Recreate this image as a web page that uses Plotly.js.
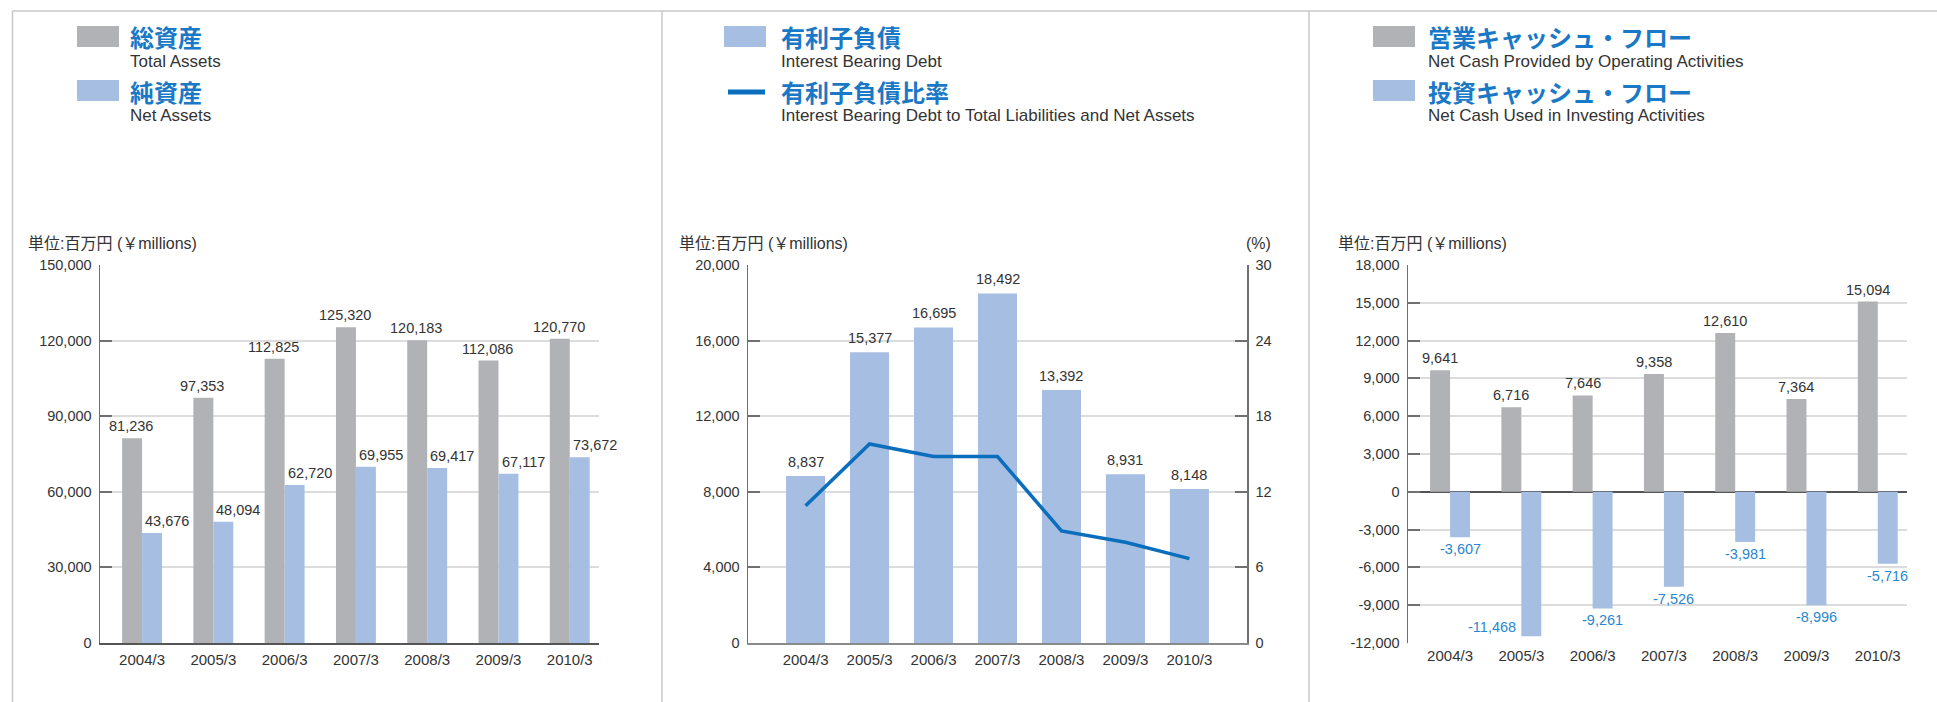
<!DOCTYPE html>
<html>
<head>
<meta charset="utf-8">
<script src="https://cdn.plot.ly/plotly-3.0.1.min.js"></script>
<style>
html,body{margin:0;padding:0;background:#fff;}
#chart{width:1937px;height:702px;}
</style>
</head>
<body>
<div id="chart"></div>
<script>
// ---------- data ----------
const years = ['2004/3','2005/3','2006/3','2007/3','2008/3','2009/3','2010/3'];
const totalAssets = [81236, 97353, 112825, 125320, 120183, 112086, 120770];
const netAssets   = [43676, 48094, 62720, 69955, 69417, 67117, 73672];
const debt        = [8837, 15377, 16695, 18492, 13392, 8931, 8148];
const debtRatio   = [10.9, 15.8, 14.8, 14.8, 8.9, 8.0, 6.7];
const operatingCF = [9641, 6716, 7646, 9358, 12610, 7364, 15094];
const investingCF = [-3607, -11468, -9261, -7526, -3981, -8996, -5716];

const ticks1 = [0, 30000, 60000, 90000, 120000, 150000];
const ticks2 = [0, 4000, 8000, 12000, 16000, 20000];
const ticks2r = [0, 6, 12, 18, 24, 30];
const ticks3 = [-12000, -9000, -6000, -3000, 0, 3000, 6000, 9000, 12000, 15000, 18000];

const legend1 = [['総資産','Total Assets'],['純資産','Net Assets']];
const legend2 = [['有利子負債','Interest Bearing Debt'],['有利子負債比率','Interest Bearing Debt to Total Liabilities and Net Assets']];
const legend3 = [['営業キャッシュ・フロー','Net Cash Provided by Operating Activities'],['投資キャッシュ・フロー','Net Cash Used in Investing Activities']];
const unitLabel = '単位:百万円 (￥millions)';
const pctLabel = '(%)';

// ---------- style ----------
const W = 1937, H = 702;
const X = x => x / W;
const Y = y => 1 - y / H;
const GRAY = '#b1b2b5', BLUE = '#a6bee2', LINE = '#0a6ebd', JPBLUE = '#1a79c6', NEGBLUE = '#2a86d0';
const TXT = '#333333', GRID = '#dcdcdc', AXIS = '#707070';
const FONT = 'Liberation Sans, Arial, Noto Sans CJK JP, sans-serif';
const JPFONT = 'Noto Sans CJK JP, sans-serif';
const fmt = v => v.toLocaleString('en-US');

const yDom = [Y(643), Y(265)];

function yAxis(vals, range, extra) {
  return Object.assign({
    domain: yDom, range: range, tickmode: 'array', tickvals: vals, ticktext: vals.map(fmt),
    ticks: 'inside', ticklen: 12, tickwidth: 2, tickcolor: AXIS,
    showline: true, linecolor: AXIS, linewidth: 1.5,
    showgrid: true, gridcolor: GRID, gridwidth: 2, zeroline: false,
    tickfont: {family: FONT, size: 14.5, color: TXT}, ticklabelstandoff: 4, fixedrange: true
  }, extra || {});
}
function xAxis(dom, range, anchor, extra) {
  return Object.assign({
    domain: dom, range: range, type: 'category', anchor: anchor, ticks: '',
    showgrid: false, zeroline: false, showline: true, linecolor: '#555', linewidth: 2,
    tickfont: {family: FONT, size: 15, color: TXT}, ticklabelstandoff: 2, fixedrange: true
  }, extra || {});
}

const traces = [
  {type:'bar', x: years, y: totalAssets, xaxis:'x', yaxis:'y', marker:{color: GRAY}, name:'Total Assets', hoverinfo:'skip'},
  {type:'bar', x: years, y: netAssets, xaxis:'x', yaxis:'y', marker:{color: BLUE}, name:'Net Assets', hoverinfo:'skip'},
  {type:'bar', x: years, y: debt, xaxis:'x2', yaxis:'y2', marker:{color: BLUE}, width: 0.61, name:'Interest Bearing Debt', hoverinfo:'skip'},
  {type:'scatter', mode:'lines', x: years, y: debtRatio, xaxis:'x2', yaxis:'y4', line:{color: LINE, width: 3.5}, name:'Ratio', hoverinfo:'skip'},
  {type:'bar', x: years, y: operatingCF, xaxis:'x3', yaxis:'y3', marker:{color: GRAY}, name:'Operating CF', hoverinfo:'skip'},
  {type:'bar', x: years, y: investingCF, xaxis:'x3', yaxis:'y3', marker:{color: BLUE}, name:'Investing CF', hoverinfo:'skip'}
];

const ann = [];
const lab = (xr, yr, x, y, text, opts) => ann.push(Object.assign({
  xref: xr, yref: yr, x: x, y: y, text: text, showarrow: false,
  font: {family: FONT, size: 14.5, color: TXT}, yanchor: 'bottom', yshift: 2
}, opts || {}));

years.forEach((yr, i) => {
  lab('x', 'y', yr, totalAssets[i], fmt(totalAssets[i]), {xshift: -11});
  lab('x', 'y', yr, netAssets[i], fmt(netAssets[i]), {xshift: 25});
  lab('x2', 'y2', yr, debt[i], fmt(debt[i]), {yshift: 4});
  lab('x3', 'y3', yr, operatingCF[i], fmt(operatingCF[i]), {xshift: -10});
  const v = investingCF[i];
  const isLowest = v === Math.min(...investingCF);
  lab('x3', 'y3', yr, v, fmt(v), isLowest
    ? {xshift: -29, yanchor: 'middle', yshift: 9, font: {family: FONT, size: 14.5, color: NEGBLUE}}
    : {xshift: 10, yanchor: 'top', yshift: -2, font: {family: FONT, size: 14.5, color: NEGBLUE}});
});

// legends + unit labels
const shapes = [];
function legendBlock(entries, sx, tx, kinds) {
  const rows = [37, 91];
  entries.forEach((e, k) => {
    const cy = rows[k];
    if (kinds[k] === 'line') {
      shapes.push({type:'line', xref:'paper', yref:'paper', x0: X(sx + 4), x1: X(sx + 41), y0: Y(cy + 1), y1: Y(cy + 1), line:{color: LINE, width: 5}});
    } else {
      shapes.push({type:'rect', xref:'paper', yref:'paper', x0: X(sx), x1: X(sx + 42), y0: Y(cy - 11), y1: Y(cy + 10), fillcolor: kinds[k], line:{width: 0}});
    }
    ann.push({xref:'paper', yref:'paper', x: X(tx), y: Y(cy), xanchor:'left', yanchor:'middle', showarrow:false, text: '<b>' + e[0] + '</b>', font:{family: JPFONT, size: 24, color: JPBLUE}});
    ann.push({xref:'paper', yref:'paper', x: X(tx), y: Y(cy + 25), xanchor:'left', yanchor:'middle', showarrow:false, text: e[1], font:{family: FONT, size: 17, color: TXT}});
  });
}
legendBlock(legend1, 77, 128, [GRAY, BLUE]);
legendBlock(legend2, 724, 779, [BLUE, 'line']);
legendBlock(legend3, 1373, 1426, [GRAY, BLUE]);

[26, 677, 1336].forEach(x => ann.push({xref:'paper', yref:'paper', x: X(x), y: Y(243), xanchor:'left', yanchor:'middle', showarrow:false, text: unitLabel, font:{family: FONT, size: 16, color: TXT}}));
ann.push({xref:'paper', yref:'paper', x: X(1273), y: Y(243), xanchor:'right', yanchor:'middle', showarrow:false, text: pctLabel, font:{family: FONT, size: 16, color: TXT}});

// panel borders
const BORDER = '#c8c8c8';
shapes.push({type:'line', xref:'paper', yref:'paper', x0: X(12.5), x1: 1, y0: Y(11), y1: Y(11), line:{color: BORDER, width: 1.5}});
[12.5, 662, 1309].forEach(x => shapes.push({type:'line', xref:'paper', yref:'paper', x0: X(x), x1: X(x), y0: Y(11), y1: 0, line:{color: BORDER, width: 1.5}}));

const layout = {
  width: W, height: H, margin: {l:0, r:0, t:0, b:0},
  paper_bgcolor: '#ffffff', plot_bgcolor: 'rgba(0,0,0,0)',
  showlegend: false, barmode: 'group', bargap: 0.44, bargroupgap: 0,
  font: {family: FONT, color: TXT},
  xaxis: xAxis([X(100), X(599)], [-0.59, 6.41], 'y'),
  yaxis: yAxis(ticks1, [0, 150000], {anchor: 'x'}),
  xaxis2: xAxis([X(748), X(1247)], [-0.9, 6.9], 'y2', {linecolor: '#8a8a8a'}),
  yaxis2: yAxis(ticks2, [0, 20000], {anchor: 'x2'}),
  yaxis4: yAxis(ticks2r, [0, 30], {anchor: 'x2', overlaying: 'y2', side: 'right', showgrid: false, ticktext: ticks2r.map(String)}),
  xaxis3: xAxis([X(1408), X(1907)], [-0.59, 6.41], 'y3', {showline: false}),
  yaxis3: yAxis(ticks3, [-12000, 18000], {anchor: 'x3', zeroline: true, zerolinecolor: '#555', zerolinewidth: 2}),
  annotations: ann, shapes: shapes
};

Plotly.newPlot('chart', traces, layout, {staticPlot: true, displayModeBar: false});
</script>
</body>
</html>
